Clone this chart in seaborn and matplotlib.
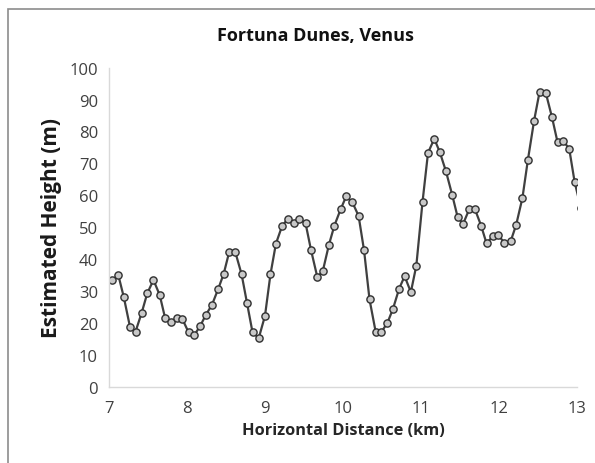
import matplotlib
matplotlib.use("Agg")
import matplotlib.pyplot as plt
import seaborn as sns
import pandas as pd
from matplotlib.patches import Rectangle

distance_km = [7.04, 7.12, 7.19, 7.27, 7.34, 7.42, 7.49, 7.57, 7.65, 7.72,
               7.79, 7.87, 7.94, 8.02, 8.09, 8.17, 8.24, 8.32, 8.40, 8.47,
               8.54, 8.62, 8.70, 8.77, 8.84, 8.92, 9.00, 9.07, 9.14, 9.22,
               9.29, 9.37, 9.44, 9.52, 9.59, 9.67, 9.74, 9.82, 9.89, 9.97,
               10.04, 10.12, 10.20, 10.27, 10.34, 10.42, 10.49, 10.57, 10.64, 10.72,
               10.79, 10.87, 10.94, 11.02, 11.09, 11.17, 11.24, 11.32, 11.40, 11.47,
               11.54, 11.62, 11.69, 11.77, 11.84, 11.92, 11.99, 12.07, 12.15, 12.22,
               12.30, 12.37, 12.45, 12.52, 12.60, 12.68, 12.75, 12.82, 12.90, 12.97,
               13.05]
height_m = [33.4, 34.9, 28.0, 18.6, 17.2, 23.2, 29.2, 33.4, 28.7, 21.4,
            20.3, 21.4, 21.2, 17.0, 16.0, 19.0, 22.4, 25.6, 30.6, 35.3,
            42.1, 42.1, 35.2, 26.1, 17.0, 15.2, 22.2, 35.2, 44.8, 50.4,
            52.5, 51.2, 52.6, 51.2, 42.8, 34.4, 36.1, 44.5, 50.5, 55.6,
            59.6, 57.8, 53.5, 42.7, 27.3, 17.0, 17.0, 20.0, 24.3, 30.7,
            34.6, 29.6, 37.9, 58.0, 73.3, 77.7, 73.6, 67.5, 60.1, 53.1,
            51.0, 55.7, 55.7, 50.5, 44.9, 47.1, 47.4, 45.1, 45.6, 50.7,
            59.1, 71.0, 83.4, 92.4, 92.1, 84.4, 76.7, 77.1, 74.6, 64.1,
            56.0]
x_ticks = [7, 8, 9, 10, 11, 12, 13]
y_ticks = [0, 10, 20, 30, 40, 50, 60, 70, 80, 90, 100]

title = "Fortuna Dunes, Venus"
xlabel = "Horizontal Distance (km)"
ylabel = "Estimated Height (m)"

sns.set_style("white")
plt.rcParams['font.family'] = ['Open Sans', 'DejaVu Sans']

df = pd.DataFrame({"x": distance_km, "y": height_m})

fig = plt.figure(figsize=(5.95, 4.64), dpi=100)
ax = fig.add_axes([109/595, 1 - 387.5/464, (577-109)/595, (387.5-68.7)/464])

sns.lineplot(data=df, x="x", y="y", ax=ax, color="#404040", linewidth=1.6,
             marker="o", markersize=5.2, markerfacecolor="#c8c8c8",
             markeredgecolor="#303030", markeredgewidth=1.0, sort=False,
             clip_on=True)

ax.set_xlim(7, 13)
ax.set_ylim(0, 100)
ax.set_xticks(x_ticks)
ax.set_yticks(y_ticks)
ax.set_xticklabels([str(t) for t in x_ticks])
ax.set_yticklabels([str(t) for t in y_ticks])

for s in ["top", "right"]:
    ax.spines[s].set_visible(False)
for s in ["left", "bottom"]:
    ax.spines[s].set_color("#d9d9d9")
    ax.spines[s].set_linewidth(1.0)

ax.tick_params(axis="both", which="major", direction="out", length=5,
               width=1.0, color="#d9d9d9", labelcolor="#404040", labelsize=12)
ax.tick_params(axis="x", pad=5)
ax.tick_params(axis="y", pad=3)

ax.set_xlabel(xlabel, fontsize=11.8, fontweight="bold", color="#262626", labelpad=4)
ax.set_ylabel(ylabel, fontsize=15, fontweight="bold", color="#1a1a1a", labelpad=5)
fig.text(0.53, 1 - 36/464, title, ha="center", va="center", fontsize=13,
         fontweight="bold", color="#111111")

fig.patches.append(Rectangle((8/595, -0.05), 1.1, 1 - 10/464 + 0.05,
                             transform=fig.transFigure, fill=False,
                             edgecolor="#8c8c8c", linewidth=1.2))

fig.savefig("out.png", dpi=100)
